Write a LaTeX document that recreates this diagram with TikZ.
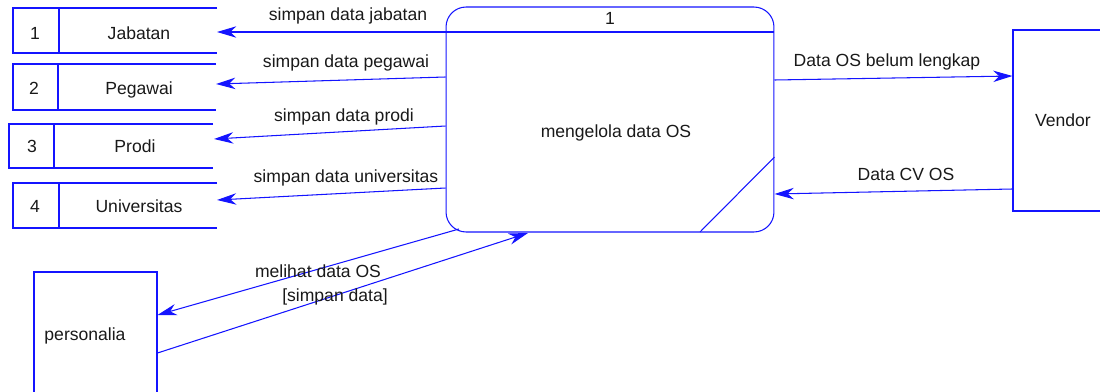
\documentclass[tikz,border=0pt]{standalone}
\usepackage{fontspec}
\setmainfont{Liberation Sans}
\usetikzlibrary{arrows.meta}
\definecolor{dfdblue}{RGB}{20,20,255}
\definecolor{dfdtext}{RGB}{25,25,25}
\tikzset{
  shp/.style={draw=dfdblue, line width=0.6pt},
  flow/.style={draw=dfdblue, line width=0.6pt, -{Stealth[length=11pt,width=6.5pt,inset=3.5pt]}},
  txt/.style={text=dfdtext, font=\fontsize{10}{12}\selectfont, inner sep=0pt, anchor=base},
}
\begin{document}
\begin{tikzpicture}[x=0.02cm, y=-0.02cm]
    \useasboundingbox (0,0) rectangle (1100,392);
    % process
    \node[shp, rounded corners=0.4cm, minimum width=6.56cm, minimum height=4.5cm] (proc) at (610,119.5) {};
    \draw[shp] (proc.west |- 0,32) -- (proc.east |- 0,32);
    \draw[shp] (700,232) -- (proc.east |- 0,157);
    \node[txt] (procno) at (610,25) {1};
    \node[txt] (procname) at (616,137) {mengelola data OS};
    % data stores
    \draw[shp] (217,8) -- (13,8) -- (13,53) -- (217,53) (59,8) -- (59,53);
    \node[txt] (no1) at (35,39) {1};
    \node[txt] (jabatan) at (139,39) {Jabatan};
    \coordinate (st1) at (217,32);
    \draw[shp] (216,64) -- (13,64) -- (13,110) -- (216,110) (58,64) -- (58,110);
    \node[txt] (no2) at (34,94) {2};
    \node[txt] (pegawai) at (139,94) {Pegawai};
    \coordinate (st2) at (216,84);
    \draw[shp] (213,124) -- (9,124) -- (9,168) -- (213,168) (54,124) -- (54,168);
    \node[txt] (no3) at (32,152) {3};
    \node[txt] (prodi) at (135,152) {Prodi};
    \coordinate (st3) at (214,139);
    \draw[shp] (217,183) -- (13,183) -- (13,228) -- (217,228) (59,183) -- (59,228);
    \node[txt] (no4) at (35,212) {4};
    \node[txt] (univ) at (139,212) {Universitas};
    \coordinate (st4) at (217,200);
    % external entities
    \node[shp, minimum width=2cm, minimum height=3.62cm, text=dfdtext, font=\fontsize{10}{12}\selectfont] (vendor) at (1063,120.5) {Vendor};
    \node[shp, minimum width=2.46cm, minimum height=2.8cm] (pers) at (95.5,342) {};
    \node[txt] (perstxt) at (85,340) {personalia};
    % ports
    \coordinate (p2) at (proc.west |- 0,77);
    \coordinate (p3) at (proc.west |- 0,126);
    \coordinate (p4) at (proc.west |- 0,188);
    \coordinate (pv1) at (proc.east |- 0,80);
    \coordinate (pv2) at (proc.east |- 0,194);
    \coordinate (pp1) at (459,229);
    \coordinate (pp2) at (528,233);
    % flows
    \draw[flow] (proc.west |- st1) -- (st1);
    \node[txt] (l1) at (348,20) {simpan data jabatan};
    \draw[flow] (p2) -- (st2);
    \node[txt] (l2) at (346,68) {simpan data pegawai};
    \draw[flow] (p3) -- (st3);
    \node[txt] (l3) at (344,121) {simpan data prodi};
    \draw[flow] (p4) -- (st4);
    \node[txt] (l4) at (346,182) {simpan data universitas};
    \draw[flow] (pv1) -- (vendor.west |- 0,76);
    \node[txt] (l5) at (887,66) {Data OS belum lengkap};
    \draw[flow] (vendor.west |- 0,189) -- (pv2);
    \node[txt] (l6) at (906,180) {Data CV OS};
    \draw[flow] (pp1) -- (pers.east |- 0,315);
    \node[txt] (l7) at (318,277) {melihat data OS};
    \draw[flow] (pers.east |- 0,353) -- (pp2);
    \node[txt] (l8) at (335,301) {[simpan data]};
\end{tikzpicture}
\end{document}
